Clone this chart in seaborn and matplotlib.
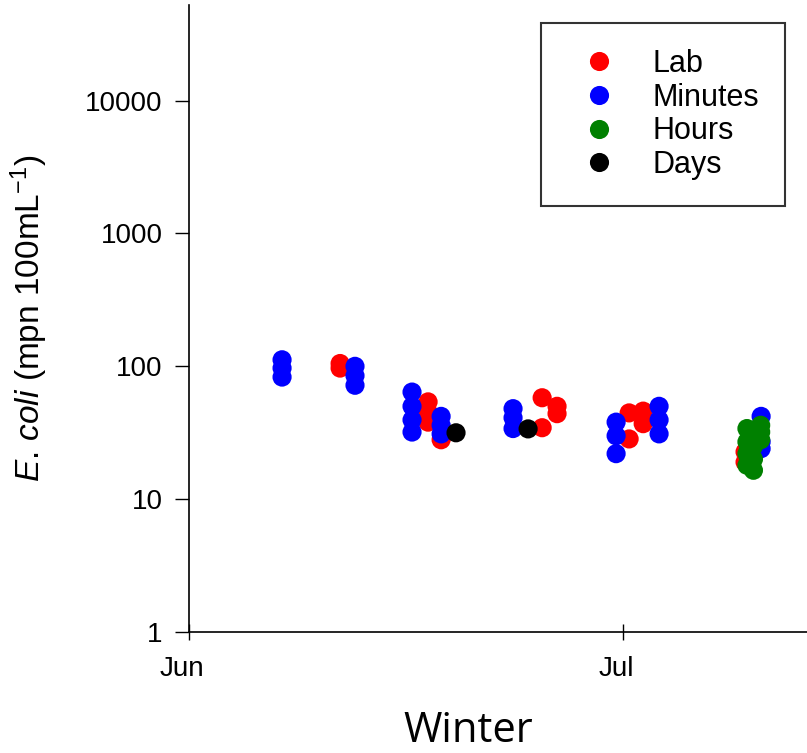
import numpy as np
import pandas as pd
import matplotlib
matplotlib.use("Agg")
import matplotlib.pyplot as plt
import matplotlib.dates as mdates
import matplotlib.ticker as mticker
import matplotlib.transforms as mtransforms
import seaborn as sns

# ---- data (day offsets from 1 June; E. coli mpn/100mL) ----
lab_days = [10.44, 10.44, 16.52, 16.52, 16.52, 17.42, 24.40, 24.40, 25.43, 25.43,
            30.41, 30.41, 31.38, 31.38, 38.42, 38.42]
lab_vals = [105, 97, 54, 45, 38, 28, 58, 34.5, 50, 44,
            44.6, 28.4, 46, 37, 22.7, 19]

minutes_days = [6.43, 6.43, 6.43, 11.47, 11.47, 11.47, 15.41, 15.41, 15.41, 15.41,
                17.42, 17.42, 17.42, 22.39, 22.39, 22.39, 29.51, 29.51, 29.51,
                32.48, 32.48, 32.48, 39.53, 39.53, 39.53]
minutes_vals = [112, 97, 83, 100, 85, 72, 64, 50, 39.5, 32,
                42, 36, 31, 48, 41, 34, 38, 30, 22,
                50, 39.5, 31, 42, 27, 24]

hours_days = [38.55, 38.55, 38.55, 38.55, 39.0, 39.0, 39.0, 39.0, 39.5, 39.5, 39.5]
hours_vals = [34, 27, 22, 18, 30, 25, 20, 16.5, 36, 32, 28]

days_days = [18.45, 23.43]
days_vals = [31.6, 33.8]

series_names = ["Lab", "Minutes", "Hours", "Days"]
series_colors = ["#ff0000", "#0000ff", "#008000", "#000000"]
ytick_vals = [1, 10, 100, 1000, 10000]
ytick_labels = ["1", "10", "100", "1000", "10000"]
base_date = pd.Timestamp("2013-06-01")

frames = []
for name, d, v in zip(series_names,
                      [lab_days, minutes_days, hours_days, days_days],
                      [lab_vals, minutes_vals, hours_vals, days_vals]):
    frames.append(pd.DataFrame({
        "date": base_date + pd.to_timedelta(np.array(d), unit="D"),
        "value": v,
        "Type": name,
    }))
df = pd.concat(frames, ignore_index=True)

sns.set_style("white")
plt.rcParams["font.family"] = ["Liberation Sans", "DejaVu Sans"]
plt.rcParams["mathtext.fontset"] = "custom"
plt.rcParams["mathtext.rm"] = "Liberation Sans"
plt.rcParams["mathtext.it"] = "Liberation Sans:italic"
plt.rcParams["mathtext.bf"] = "Liberation Sans:bold"
for key in ["text.color", "axes.labelcolor", "xtick.color", "ytick.color"]:
    plt.rcParams[key] = "black"

fig = plt.figure(figsize=(8.07, 7.53), dpi=100)
ax = fig.add_axes([189 / 807, 121 / 753, 618 / 807, 627 / 753])

sns.scatterplot(data=df, x="date", y="value", hue="Type",
                hue_order=series_names, palette=series_colors,
                s=190, linewidth=0, alpha=1, ax=ax, legend=True)

ax.set_yscale("log")
ax.set_ylim(1, 10 ** 4.72)
ax.set_xlim(base_date, base_date + pd.Timedelta(days=42.7))

ax.yaxis.set_major_locator(mticker.FixedLocator(ytick_vals))
ax.yaxis.set_major_formatter(mticker.FixedFormatter(ytick_labels))
ax.yaxis.set_minor_locator(mticker.NullLocator())
ax.xaxis.set_major_locator(mdates.MonthLocator())
ax.xaxis.set_major_formatter(mdates.DateFormatter("%b"))

for side in ["top", "right"]:
    ax.spines[side].set_visible(False)
for side in ["left", "bottom"]:
    ax.spines[side].set_color("black")
    ax.spines[side].set_linewidth(1.2)

ax.tick_params(axis="y", which="major", direction="out", length=10, width=1,
               color="black", labelcolor="black", labelsize=20, pad=9, left=True)
ax.tick_params(axis="x", which="major", direction="inout", length=12, width=1,
               color="black", labelcolor="black", labelsize=20, pad=11, bottom=True)
offset = mtransforms.ScaledTranslation(-7 / 100, 0, fig.dpi_scale_trans)
for lbl in ax.get_xticklabels():
    lbl.set_transform(lbl.get_transform() + offset)

ax.set_ylabel(r"$\mathit{E.\,coli}$ (mpn 100mL$^{\mathrm{-1}}$)",
              fontsize=24, color="black")
ax.yaxis.set_label_coords(-0.225, 0.5)
ax.set_xlabel("Winter", fontsize=30, family=["Open Sans", "DejaVu Sans"],
              color="black")
ax.xaxis.set_label_coords(0.452, -0.125)

sns.move_legend(ax, "upper right", bbox_to_anchor=(0.9644, 0.9713), title=None,
                frameon=True, fontsize=22, borderpad=0.85, handlelength=2.1,
                handletextpad=0.7, labelspacing=0.12, borderaxespad=0,
                fancybox=False, markerscale=1.0)
leg = ax.get_legend()
leg.get_frame().set_edgecolor("black")
leg.get_frame().set_linewidth(1.5)
for t in leg.get_texts():
    t.set_color("black")

fig.savefig("out.png", dpi=100)
